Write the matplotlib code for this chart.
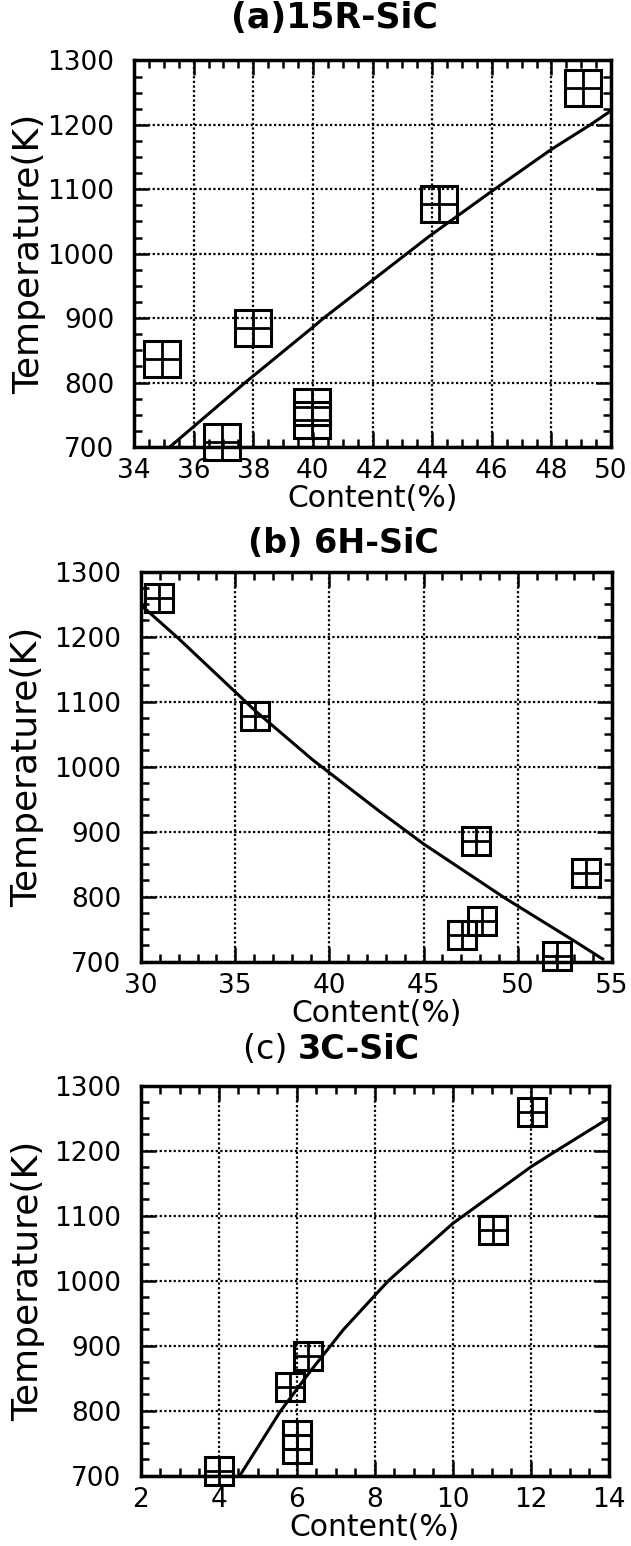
import matplotlib
matplotlib.use("Agg")
import matplotlib.pyplot as plt
from matplotlib.ticker import MultipleLocator

plt.rcParams['font.family'] = ['DejaVu Sans']

content_15r = [34.93, 36.95, 38.0, 39.97, 39.97, 44.23, 49.05]
temp_15r = [837, 707, 884, 742, 762, 1077, 1258]
fit_x_15r = [35.2, 37.73, 40.0, 40.36, 43.9, 46.0, 48.0, 49.3, 50.0]
fit_y_15r = [700, 800, 886, 900, 1027, 1097, 1162, 1200, 1222]

# (b) 6H-SiC
content_6h = [30.96, 36.07, 47.8, 53.62, 48.1, 47.04, 52.07]
temp_6h = [1260, 1078, 885, 837, 762, 741, 708]
fit_x_6h = [30.1, 32.0, 35.0, 36.1, 39.13, 42.67, 45.0, 49.3, 53.09, 54.5]
fit_y_6h = [1246, 1197, 1115, 1085, 1010, 931, 881, 798, 730, 704]

# (c) 3C-SiC
content_3c = [12.03, 11.04, 6.3, 5.82, 6.0, 6.0, 4.0]
temp_3c = [1260, 1078, 884, 837, 762, 741, 707]
fit_x_3c = [4.54, 5.59, 6.34, 7.2, 8.35, 10.0, 12.0, 12.66, 14.0]
fit_y_3c = [700, 800, 860, 925, 1000, 1088, 1175, 1200, 1250]


def style_axes(ax, xlim, xmajor, xminor, ylab_x):
    ax.set_xlim(*xlim)
    ax.set_ylim(700, 1300)
    ax.xaxis.set_major_locator(MultipleLocator(xmajor))
    ax.xaxis.set_minor_locator(MultipleLocator(xminor))
    ax.yaxis.set_major_locator(MultipleLocator(100))
    ax.yaxis.set_minor_locator(MultipleLocator(25))
    ax.tick_params(which='both', direction='in', top=True, right=True,
                   labelsize=19, width=1.8, colors='black')
    ax.tick_params(which='major', length=11)
    ax.tick_params(which='minor', length=6)
    ax.tick_params(axis='x', pad=8)
    ax.tick_params(axis='y', pad=14)
    ax.grid(True, which='major', color='black', linestyle=(0, (1, 1.1)), linewidth=1.6)
    for sp in ax.spines.values():
        sp.set_linewidth(2.5)
    ax.set_xlabel('Content(%)', fontsize=21.5, labelpad=0)
    ax.set_ylabel('Temperature(K)', fontsize=26)
    ax.yaxis.set_label_coords(ylab_x, 0.5)


def draw(ax, x, y, fx, fy, ms):
    ax.plot(fx, fy, color='black', lw=2.2, zorder=2)
    ax.plot(x, y, 's', ms=ms, mfc='none', mec='black', mew=2.2, clip_on=False, zorder=3)
    ax.plot(x, y, '+', ms=ms, mec='black', mew=2.0, clip_on=False, zorder=3)


fig = plt.figure(figsize=(6.31, 15.46), dpi=100)

ax_a = fig.add_axes([0.2124, 0.7109, 0.756, 0.25])
style_axes(ax_a, (34, 50), 2, 0.5, -0.185)
draw(ax_a, content_15r, temp_15r, fit_x_15r, fit_y_15r, 26.5)
ax_a.text(0.42, 1.065, '(a)15R-SiC', transform=ax_a.transAxes, fontsize=25,
          fontweight='bold', ha='center', va='bottom')

ax_b = fig.add_axes([0.2235, 0.378, 0.7465, 0.2522])
style_axes(ax_b, (30, 55), 5, 1, -0.205)
draw(ax_b, content_6h, temp_6h, fit_x_6h, fit_y_6h, 20)
ax_b.text(0.43, 1.03, '(b) 6H-SiC', transform=ax_b.transAxes, fontsize=24,
          fontweight='bold', ha='center', va='bottom')

ax_c = fig.add_axes([0.223, 0.0455, 0.742, 0.2523])
style_axes(ax_c, (2, 14), 2, 0.5, -0.205)
draw(ax_c, content_3c, temp_3c, fit_x_3c, fit_y_3c, 20)
ax_c.text(0.335, 1.05, '(c) ', transform=ax_c.transAxes, fontsize=24,
          ha='right', va='bottom')
ax_c.text(0.335, 1.05, '3C-SiC', transform=ax_c.transAxes, fontsize=24,
          fontweight='bold', ha='left', va='bottom')

fig.savefig('out.png', dpi=100)
